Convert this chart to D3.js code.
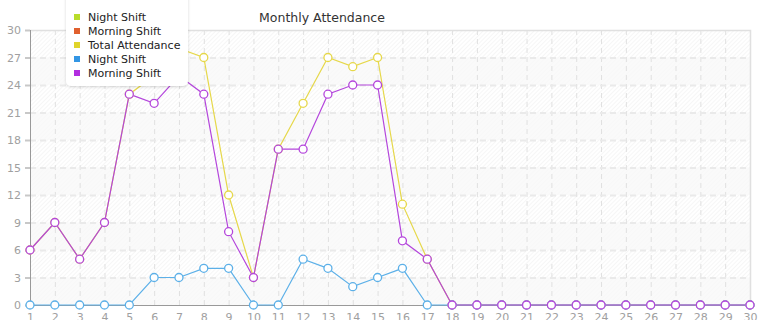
<!DOCTYPE html>
<html>
<head>
<meta charset="utf-8">
<script src="https://cdn.jsdelivr.net/npm/d3@7"></script>
<style>
  body { margin: 0; background: #fff; }
  svg { display: block; font-family: "DejaVu Sans", sans-serif; }
</style>
</head>
<body>
<div id="chart"></div>
<script>
const days = d3.range(1, 31);
const morningShift = [6, 9, 5, 9, 23, 22, 25, 23, 8, 3, 17, 17, 23, 24, 24, 7, 5, 0, 0, 0, 0, 0, 0, 0, 0, 0, 0, 0, 0, 0];
const nightShift = [0, 0, 0, 0, 0, 3, 3, 4, 4, 0, 0, 5, 4, 2, 3, 4, 0, 0, 0, 0, 0, 0, 0, 0, 0, 0, 0, 0, 0, 0];
const totalAttendance = [6, 9, 5, 9, 23, 25, 28, 27, 12, 3, 17, 22, 27, 26, 27, 11, 5, 0, 0, 0, 0, 0, 0, 0, 0, 0, 0, 0, 0, 0];
const yTicks = [0, 3, 6, 9, 12, 15, 18, 21, 24, 27, 30];
const legendItems = ["Night Shift", "Morning Shift", "Total Attendance", "Night Shift", "Morning Shift"];
const legendColors = ["#b8dc2a", "#e0602e", "#e0d42a", "#3396e4", "#b22ee0"];

const width = 765;
const height = 320;
const margin = { top: 30, right: 15, bottom: 15, left: 30 };

const svg = d3.select("#chart").append("svg")
  .attr("width", width)
  .attr("height", height);

const x = d3.scaleLinear().domain([1, 30]).range([margin.left, width - margin.right]);
const y = d3.scaleLinear().domain([0, 30]).range([height - margin.bottom, margin.top]);

// hatch pattern for plot background
const defs = svg.append("defs");
const pat = defs.append("pattern")
  .attr("id", "hatch")
  .attr("width", 3).attr("height", 3)
  .attr("patternUnits", "userSpaceOnUse")
  .attr("patternTransform", "rotate(45)");
pat.append("line").attr("x1", 0).attr("y1", 0).attr("x2", 0).attr("y2", 3)
  .attr("stroke", "#e6e6e6").attr("stroke-width", 1);

const plotW = x(30) - x(1);
svg.append("rect")
  .attr("x", x(1)).attr("y", y(30))
  .attr("width", plotW).attr("height", y(0) - y(30))
  .attr("fill", "#fff");

svg.append("rect")
  .attr("x", x(1)).attr("y", y(30))
  .attr("width", plotW).attr("height", y(0) - y(30))
  .attr("fill", "url(#hatch)")
  .attr("opacity", 0.7);

// alternating bands
svg.append("g").selectAll("rect")
  .data([0, 6, 12, 18, 24])
  .join("rect")
  .attr("x", x(1)).attr("y", d => y(d + 3))
  .attr("width", plotW).attr("height", d => y(d) - y(d + 3))
  .attr("fill", "#f8f8f8")
  .attr("opacity", 0.75);

// grid
svg.append("g")
  .attr("transform", `translate(0,${height - margin.bottom})`)
  .call(d3.axisBottom(x).tickValues(days.slice(1, -1)).tickSize(-(y(0) - y(30))).tickFormat(""))
  .call(g => g.select(".domain").remove())
  .call(g => g.selectAll("line").attr("stroke", "#e0e0e0").attr("stroke-dasharray", "5,4"));

svg.append("g")
  .attr("transform", `translate(${margin.left},0)`)
  .call(d3.axisLeft(y).tickValues(yTicks.slice(1, -1)).tickSize(-plotW).tickFormat(""))
  .call(g => g.select(".domain").remove())
  .call(g => g.selectAll("line").attr("stroke", "#eaeaea").attr("stroke-width", 2).attr("stroke-dasharray", "6,4"));

// border top/right
svg.append("path")
  .attr("d", `M${x(1)},${y(30) + 0.5}H${x(30) + 0.5}V${y(0)}`)
  .attr("fill", "none")
  .attr("stroke", "#e0e0e0")
  .attr("stroke-width", 1.5);

// axes
const yAxis = svg.append("g")
  .attr("transform", `translate(${margin.left},0)`)
  .call(d3.axisLeft(y).tickValues(yTicks).tickSize(5).tickPadding(4));
yAxis.select(".domain").attr("stroke", "#999").attr("d", `M0.5,${y(30)}V${y(0)}`);
yAxis.selectAll("line").attr("stroke", "#c8c8c8").attr("stroke-width", 2);
yAxis.selectAll("text").attr("fill", "#a0a0a0").attr("font-size", 11).attr("font-family", "DejaVu Sans, sans-serif");

const xAxis = svg.append("g")
  .attr("transform", `translate(0,${y(0)})`)
  .call(d3.axisBottom(x).tickValues(days).tickSize(0).tickPadding(8));
xAxis.select(".domain").attr("stroke", "#999").attr("d", `M${x(1)},0.5H${x(30)}`);
xAxis.selectAll("text").attr("fill", "#a0a0a0").attr("font-size", 11).attr("font-family", "DejaVu Sans, sans-serif");

// series
const series = [
  { values: totalAttendance, color: "#e6d84a" },
  { values: nightShift, color: "#5cb0e8" },
  { values: morningShift, color: "#b446dc" },
];

const line = d3.line().x((d, i) => x(days[i])).y(d => y(d));

series.forEach(s => {
  svg.append("path")
    .datum(s.values)
    .attr("d", line)
    .attr("fill", "none")
    .attr("stroke", s.color)
    .attr("stroke-width", 1.2);
});
series.forEach(s => {
  svg.append("g").selectAll("circle")
    .data(s.values)
    .join("circle")
    .attr("cx", (d, i) => x(days[i]))
    .attr("cy", d => y(d))
    .attr("r", 4)
    .attr("fill", "#fff")
    .attr("stroke", s.color)
    .attr("stroke-width", 1.3);
});

// title
svg.append("text")
  .attr("x", 322).attr("y", 22)
  .attr("text-anchor", "middle")
  .attr("font-size", 12.5)
  .attr("fill", "#333")
  .text("Monthly Attendance");

// legend
const lg = svg.append("g").attr("transform", "translate(66,0)");
defs.append("filter").attr("id", "shadow")
  .append("feDropShadow").attr("dx", 0).attr("dy", 1).attr("stdDeviation", 1.5)
  .attr("flood-color", "#000").attr("flood-opacity", 0.15);
lg.append("rect")
  .attr("x", 0).attr("y", -8).attr("width", 122).attr("height", 94)
  .attr("rx", 5)
  .attr("fill", "#fff")
  .attr("filter", "url(#shadow)");
const items = lg.selectAll(".item")
  .data(legendItems)
  .join("g")
  .attr("class", "item")
  .attr("transform", (d, i) => `translate(0,${17 + i * 14})`);
items.append("rect")
  .attr("x", 8).attr("y", -3).attr("width", 6).attr("height", 6)
  .attr("fill", (d, i) => legendColors[i]);
items.append("text")
  .attr("x", 22).attr("y", 4)
  .attr("font-size", 11)
  .attr("fill", "#222")
  .text(d => d);
</script>
</body>
</html>
